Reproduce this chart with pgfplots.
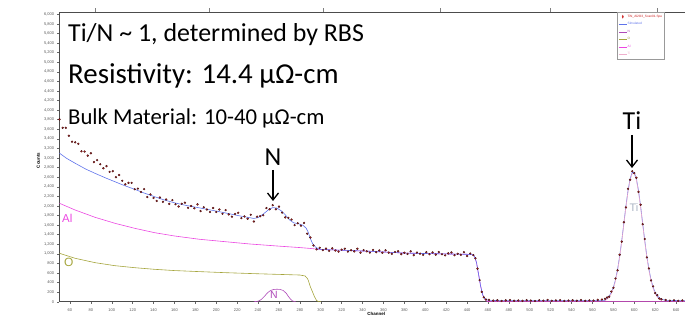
\documentclass[border=0pt]{standalone}
\usepackage{pgfplots}
\pgfplotsset{compat=1.18}
\usepackage{fontspec}
\setmainfont{Carlito}
\newfontfamily\arial{Liberation Sans}
\usetikzlibrary{arrows.meta}
\definecolor{datred}{RGB}{205,35,35}
\definecolor{datedge}{RGB}{60,15,15}
\definecolor{simblue}{RGB}{95,115,235}
\definecolor{almag}{RGB}{235,70,225}
\definecolor{oolive}{RGB}{165,165,60}
\definecolor{npurp}{RGB}{175,75,185}
\definecolor{tipink}{RGB}{240,175,205}
\definecolor{tigray}{RGB}{170,180,195}
\begin{document}
\begin{tikzpicture}
\useasboundingbox (0,0) rectangle (685bp,321bp);
\clip (0,0) rectangle (685bp,321bp);
\begin{axis}[
  at={(59.5bp,19.3bp)}, anchor=south west,
  scale only axis, width=658.4bp, height=289.8bp,
  xmin=50, xmax=680, ymin=0, ymax=6050,
  axis line style={draw=black!70, line width=0.7pt},
  xtick={60,80,...,640}, ytick={0,200,...,6000},
  tick align=outside, tick pos=left,
  major tick length=2bp,
  tick style={black!60, line width=0.4pt},
  /pgf/number format/assume math mode=true,
  /pgf/number format/1000 sep={,},
  scaled y ticks=false,
  ticklabel style={font=\arial\fontsize{4}{5}\selectfont, text=black!65},
  xticklabel style={yshift=-1bp},
  xlabel={\textbf{Channel}}, ylabel={\textbf{Counts}},
  xlabel style={font=\arial\fontsize{4.5}{5}\selectfont, at={(axis cs:353,0)}, anchor=north, yshift=-7bp},
  ylabel style={font=\arial\fontsize{4.5}{5}\selectfont, at={(axis cs:50,2950)}, anchor=south, yshift=16bp},
  legend cell align=left,
  legend style={at={(axis cs:583.5,6040)}, anchor=north west, draw=black!40, line width=0.3pt,
    font=\arial\fontsize{3.2}{3.5}\selectfont, inner sep=1.5pt, row sep=2.2pt,
    nodes={inner sep=0.8pt}},
  legend image post style={xscale=0.45},
]
% O partial
\addplot[oolive, line width=0.6pt, forget plot] coordinates {
(50,1010) (65,906) (84,815) (103,752) (122,710) (141,676) (160,650) (186,626) (210,605) (240,583) (260,570) (280,557) (285,537) (287,490) (288,450) (290,313) (292,210) (294,104) (296,25) (298,0) (300,0)};
% N partial
\addplot[npurp, line width=0.6pt, forget plot] coordinates {
(236,0) (240,10) (243,45) (246,110) (249,185) (252,235) (255,255) (258,260) (261,256) (264,235) (267,175) (269,110) (271,55) (273,15) (276,0)};
% Al partial
\addplot[almag, line width=0.6pt, forget plot] coordinates {
(50,2054) (65,1914) (84,1762) (103,1637) (122,1532) (141,1441) (160,1372) (184,1303) (210,1250) (232,1205) (260,1160) (280,1130) (290,1112) (296,1098) (302,1088) (320,1075) (350,1050) (380,1015) (410,1001) (440,990) (445,982) (447,950) (449,820) (451,570) (453,320) (455,140) (457,55) (459,10) (461,0) (680,0)};
% Simulated
\addplot[simblue, line width=0.6pt, forget plot] coordinates {
(50,3100) (57,2990) (65,2890) (75,2770) (84,2680) (94,2585) (103,2505) (112,2425) (122,2346) (131,2268) (141,2192) (150,2125) (160,2065) (170,2015) (186,1950) (203,1879) (223,1789) (236,1738) (240,1755) (245,1830) (250,1920) (254,1965) (258,1955) (262,1900) (266,1815) (270,1710) (274,1648) (279,1625) (283,1595) (286,1535) (288,1450) (290,1320) (292,1220) (295,1140) (298,1100) (302,1088) (320,1075) (350,1050) (380,1015) (410,1001) (440,990) (445,982) (447,950) (449,820) (451,570) (453,320) (455,140) (457,60) (460,30) (470,24) (572,24)
(574,77) (576,120) (578,191) (580,300) (582,459) (584,675) (586,950) (588,1278) (590,1638) (592,1999) (594,2322) (596,2567) (598,2698) (600,2698) (602,2567) (604,2322) (606,1999) (608,1638) (610,1278) (612,950) (614,675) (616,459) (618,300) (620,191) (622,120) (624,77) (626,50) (630,30) (640,24) (680,24)};
% Ti partial
\addplot[tipink, line width=0.6pt, forget plot] coordinates {
(572,20) (574,52) (576,95) (578,166) (580,275) (582,434) (584,650) (586,925) (588,1253) (590,1613) (592,1974) (594,2297) (596,2542) (598,2673) (600,2673) (602,2542) (604,2297) (606,1974) (608,1613) (610,1253) (612,925) (614,650) (616,434) (618,275) (620,166) (622,95) (624,52) (626,25)};
% Experimental
\addplot[only marks, mark=*, mark size=0.95pt, mark options={fill=datred, draw=datedge, line width=0.35pt}, forget plot] table {
x y
50 3805
53 3630
56 3630
59 3465
62 3340
65 3327
68 3295
71 3140
74 3135
77 3050
80 3100
83 2915
86 2955
89 2870
92 2785
95 2830
98 2710
101 2725
104 2600
107 2645
110 2525
113 2450
116 2480
119 2480
122 2348
125 2360
128 2290
131 2350
134 2185
137 2240
140 2165
143 2103
146 2175
149 2085
152 2133
155 2042
158 2120
161 2035
164 1988
167 2045
170 2067
173 1960
176 1998
179 1950
182 2032
185 1892
188 1972
191 1925
194 1873
197 1955
200 1872
203 1924
206 1836
209 1912
212 1823
215 1775
218 1832
221 1855
224 1745
227 1780
230 1732
233 1815
236 1675
239 1775
242 1785
245 1805
248 1955
251 1930
254 2015
257 1930
260 1985
263 1860
266 1760
269 1750
272 1715
275 1598
278 1638
281 1587
284 1645
287 1420
290 1340
293 1175
296 1093
299 1125
302 1076
305 1109
308 1062
311 1114
314 1068
317 1046
320 1087
323 1106
326 1046
329 1074
332 1051
335 1105
338 1025
341 1076
344 1052
347 1025
350 1080
353 1034
356 1070
359 1022
362 1073
365 1024
368 999
371 1037
374 1054
377 994
380 1021
383 997
386 1052
389 972
392 1025
395 1003
398 978
401 1034
404 991
407 1029
410 983
413 1036
416 990
419 968
422 1009
425 1029
428 971
431 1000
434 978
437 1034
440 954
443 1006
446 972
448 905
450 690
452 450
454 205
456 92
458 45
461 38
465 22
469 30
473 15
477 28
481 35
485 20
489 26
493 18
497 32
501 24
505 14
509 30
513 22
517 36
521 19
525 27
529 33
533 16
537 25
541 30
545 21
549 35
553 18
557 28
561 24
565 38
569 45
572 60
574 87
576 105
578 211
580 290
582 484
584 655
586 980
588 1253
590 1658
592 1969
594 2357
596 2547
598 2723
600 2683
602 2587
604 2292
606 2024
608 1618
610 1308
612 925
614 695
616 444
618 320
620 181
622 135
624 67
626 50
630 35
634 22
638 30
642 18
646 27
650 21
654 25
658 19
};
% legend entries
\addlegendimage{only marks, mark=*, mark size=1.5pt, mark options={fill=datred, draw=datred}}
\addlegendentry{\textcolor{datred}{TiN\_Al2O3\_Scan01.Spe}}
\addlegendimage{simblue, line width=0.5pt}
\addlegendentry{\textcolor{simblue}{Simulated}}
\addlegendimage{npurp, line width=0.5pt}
\addlegendentry{\textcolor{npurp}{N}}
\addlegendimage{oolive, line width=0.5pt}
\addlegendentry{\textcolor{oolive}{O}}
\addlegendimage{almag, line width=0.5pt}
\addlegendentry{\textcolor{almag}{Al}}
\addlegendimage{tipink, line width=0.5pt}
\addlegendentry{\textcolor{tipink}{Ti}}
\end{axis}
% top secondary ticks
\foreach \xx in {95,209,323,440,550,657} {
  \draw[black!50, line width=0.4pt] (\xx bp,309bp) -- (\xx bp,313bp);
}
% annotations
\node[anchor=base west, inner sep=0pt, font=\fontsize{26}{30}\selectfont] at (68bp,279bp) {Ti/N \textasciitilde{} 1, determined by RBS};
\node[anchor=base west, inner sep=0pt, font=\fontsize{29}{32}\selectfont] at (68bp,237bp) {Resistivity: 14.4 μΩ-cm};
\node[anchor=base west, inner sep=0pt, font=\fontsize{22.8}{25}\selectfont] at (68bp,196bp) {Bulk Material: 10-40 μΩ-cm};
\node[anchor=base, inner sep=0pt, font=\fontsize{26}{30}\selectfont] at (273bp,155bp) {N};
\draw[line width=1.3bp, -{Straight Barb[length=7bp, width=11bp]}] (273bp,151bp) -- (273bp,120bp);
\node[anchor=base, inner sep=0pt, font=\fontsize{26}{30}\selectfont] at (632bp,191bp) {Ti};
\draw[line width=1.3bp, -{Straight Barb[length=7bp, width=11bp]}] (632bp,186bp) -- (632bp,153bp);
% partial labels
\node[anchor=base west, inner sep=0pt, text=almag, font=\arial\fontsize{11.5}{12}\selectfont] at (62bp,98bp) {Al};
\node[anchor=base west, inner sep=0pt, text=oolive, font=\arial\fontsize{12}{12}\selectfont] at (64bp,54bp) {O};
\node[anchor=base, inner sep=0pt, text=npurp, font=\arial\fontsize{10.5}{11}\selectfont] at (274bp,23bp) {N};
\node[anchor=base, inner sep=0pt, text=tigray, font=\arial\fontsize{11}{11}\selectfont] at (634bp,109bp) {Ti};
\end{tikzpicture}
\end{document}
